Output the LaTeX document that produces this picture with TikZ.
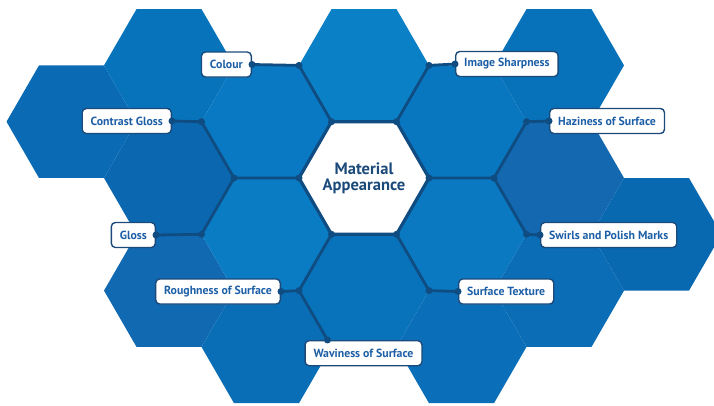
\documentclass[tikz,border=0pt]{standalone}
\usepackage{fontspec}
\setmainfont{PT Sans}
\usetikzlibrary{calc}
\definecolor{linedark}{HTML}{0F4C81}
\definecolor{labtext}{HTML}{1D5FA6}
\definecolor{centtext}{HTML}{1B4A7A}
\definecolor{hA}{HTML}{0A6BB4}
\definecolor{hB}{HTML}{0673BB}
\definecolor{hC}{HTML}{0B68B0}
\definecolor{hD}{HTML}{1169B2}
\definecolor{hE}{HTML}{0879C2}
\definecolor{hF}{HTML}{0A7CC4}
\definecolor{hG}{HTML}{0A6EB7}
\definecolor{hH}{HTML}{0A80C6}
\definecolor{hI}{HTML}{0873BB}
\definecolor{hJ}{HTML}{0877C0}
\definecolor{hK}{HTML}{0A79C1}
\definecolor{hL}{HTML}{0A6FB8}
\definecolor{hM}{HTML}{0771B9}
\definecolor{hN}{HTML}{1368B0}
\definecolor{hO}{HTML}{0A6DB6}
\definecolor{hP}{HTML}{0868B0}
\tikzset{
  conn/.style={draw=linedark, line width=2.8pt, line cap=round, line join=round},
  jdot/.style={fill=linedark, circle, inner sep=0pt, minimum size=7pt},
  lab/.style={draw=centtext, line width=1.4pt, fill=white, rounded corners=4pt,
    minimum height=25pt, inner xsep=8.5pt, inner ysep=0pt, text=labtext,
    font=\fontsize{11.8}{13}\selectfont\bfseries},
  centre/.style={text=centtext, align=center, font=\fontsize{16.5}{18}\selectfont\bfseries}
}
\newcommand{\hexfill}[3]{\fill[#3] (#1,#2) +(0:65) -- +(60:65) -- +(120:65) -- +(180:65) -- +(240:65) -- +(300:65) -- cycle;}
\begin{document}
\begin{tikzpicture}[x=1pt,y=-1pt]
\useasboundingbox (0,0) rectangle (714,405);
% background hexagons
\hexfill{71.5}{121.7}{hA}
\hexfill{169}{65.4}{hB}
\hexfill{169}{178}{hC}
\hexfill{169}{290.6}{hD}
\hexfill{266.5}{121.7}{hE}
\hexfill{266.5}{234.3}{hF}
\hexfill{266.5}{346.9}{hG}
\hexfill{364}{65.4}{hH}
\hexfill{364}{290.6}{hI}
\hexfill{461.5}{121.7}{hJ}
\hexfill{461.5}{234.3}{hK}
\hexfill{461.5}{346.9}{hL}
\hexfill{559}{65.4}{hM}
\hexfill{559}{178}{hN}
\hexfill{559}{290.6}{hO}
\hexfill{656.5}{234.3}{hP}
% centre hexagon vertices
\coordinate (v0) at (429,178);
\coordinate (v60) at (396.5,121.7);
\coordinate (v120) at (331.5,121.7);
\coordinate (v180) at (299,178);
\coordinate (v240) at (331.5,234.3);
\coordinate (v300) at (396.5,234.3);
% junctions
\coordinate (jA) at (299,65.4);
\coordinate (jB) at (429,65.4);
\coordinate (jC) at (234,178);
\coordinate (jD) at (201.5,121.7);
\coordinate (jE) at (201.5,234.3);
\coordinate (jF) at (494,178);
\coordinate (jG) at (526.5,121.7);
\coordinate (jH) at (526.5,234.3);
\coordinate (jI) at (299,290.6);
\coordinate (jJ) at (429,290.6);
\coordinate (jK) at ($(299,290.6)!0.877!(331.5,346.9)$);
% centre
\filldraw[fill=white, draw=linedark, line width=3.2pt, line join=round]
  (v0) -- (v60) -- (v120) -- (v180) -- (v240) -- (v300) -- cycle;
\node[centre] (mat) at (364,178) {Material\\[-2pt]Appearance};
% labels
\node[lab, anchor=east] (colour) at (252,64.5) {Colour};
\node[lab, anchor=east] (contrast) at (172,121) {Contrast Gloss};
\node[lab, anchor=east] (gloss) at (156,235) {Gloss};
\node[lab, anchor=east] (rough) at (281,291.5) {Roughness of Surface};
\node[lab, anchor=north] (wavi) at (363.5,340) {Waviness of Surface};
\node[lab, anchor=west] (sharp) at (455,64) {Image Sharpness};
\node[lab, anchor=west] (hazy) at (549,121) {Haziness of Surface};
\node[lab, anchor=west] (swirl) at (540,235) {Swirls and Polish Marks};
\node[lab, anchor=west] (text) at (458,291.5) {Surface Texture};
% connectors
\draw[conn] (v120) -- (jA) -- (colour.east);
\draw[conn] (v60) -- (jB) -- (sharp.west);
\draw[conn] (v180) -- (jC) -- (jD) -- (contrast.east);
\draw[conn] (jC) -- (jE) -- (gloss.east);
\draw[conn] (v0) -- (jF) -- (jG) -- (hazy.west);
\draw[conn] (jF) -- (jH) -- (swirl.west);
\draw[conn] (v240) -- (jI) -- (rough.east);
\draw[conn] (jI) -- (jK);
\draw[conn] (v300) -- (jJ) -- (text.west);
% dots
\foreach \p in {v0,v60,v120,v180,v240,v300,jA,jB,jC,jD,jE,jF,jG,jH,jI,jJ}
  \node[jdot] at (\p) {};
\node[jdot] at (colour.east) {};
\node[jdot] at (sharp.west) {};
\node[jdot] at (contrast.east) {};
\node[jdot] at (gloss.east) {};
\node[jdot] at (hazy.west) {};
\node[jdot] at (swirl.west) {};
\node[jdot] at (rough.east) {};
\node[jdot] at (text.west) {};
\node[jdot] at (jK) {};
\end{tikzpicture}
\end{document}
